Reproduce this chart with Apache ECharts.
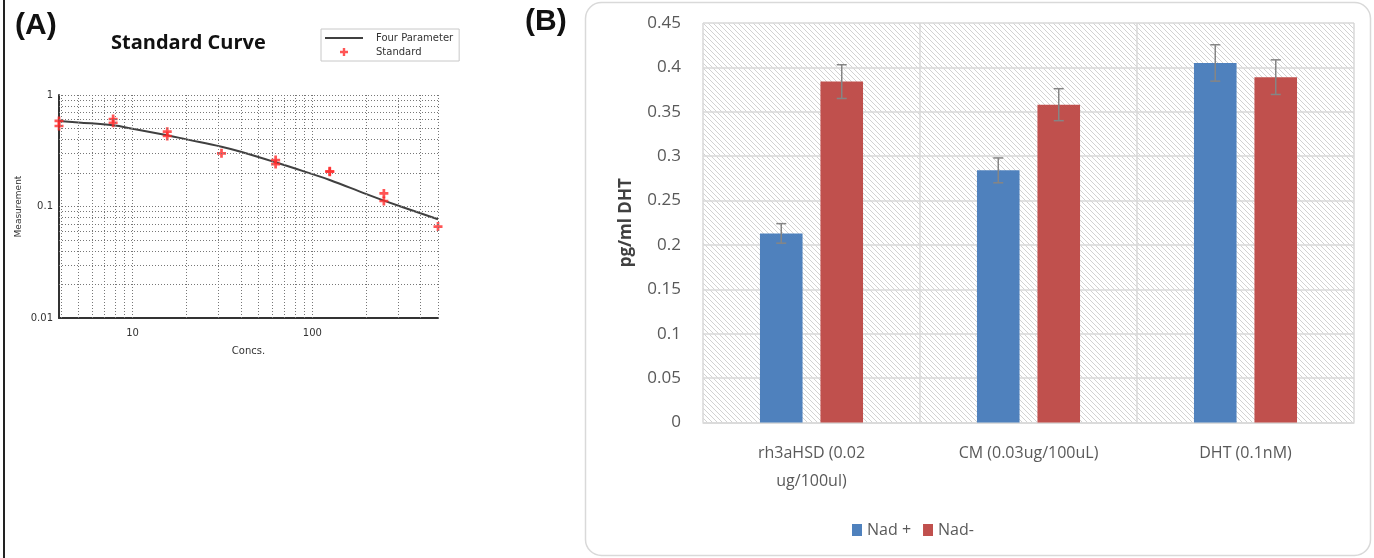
<!DOCTYPE html>
<html><head><meta charset="utf-8">
<script src="https://cdn.jsdelivr.net/npm/echarts@6/dist/echarts.min.js"></script>
<style>html,body{margin:0;padding:0;background:#fff}#c{width:1374px;height:558px}</style>
</head><body><div id="c"></div>
<script>
// ---------- Panel A: Standard curve (log-log) ----------
var curveConc = [3.9, 5, 7.8, 10, 15.6, 20, 31.25, 40, 62.5, 100, 125, 200, 250, 500];
var curveMeas = [0.585, 0.567, 0.535, 0.498, 0.435, 0.40, 0.344, 0.31, 0.249, 0.195, 0.173, 0.129, 0.113, 0.0768];
var stdConc = [3.9, 3.9, 7.8, 7.8, 15.6, 15.6, 31.25, 62.5, 62.5, 125, 125, 250, 250, 500];
var stdMeas = [0.585, 0.527, 0.609, 0.564, 0.469, 0.429, 0.30, 0.261, 0.24, 0.207, 0.205, 0.131, 0.112, 0.066];
var gridConcA = [4, 5, 6, 7, 8, 9, 10, 20, 30, 40, 50, 60, 70, 80, 90, 100, 200, 300, 400, 500];
var gridMeasA = [0.02, 0.03, 0.04, 0.05, 0.06, 0.07, 0.08, 0.09, 0.1, 0.2, 0.3, 0.4, 0.5, 0.6, 0.7, 0.8, 0.9, 1];

// ---------- Panel B: grouped bars ----------
var categories = ['rh3aHSD (0.02\nug/100ul)', 'CM (0.03ug/100uL)', 'DHT (0.1nM)'];
var nadPlus = [0.213, 0.284, 0.405];
var nadPlusErr = [0.011, 0.014, 0.0205];
var nadMinus = [0.384, 0.358, 0.389];
var nadMinusErr = [0.019, 0.018, 0.0195];

var BAR_CAT_GAP = 0.525, BAR_GAP = 0.42;

// hatch pattern for plot background
var pc = document.createElement('canvas'); pc.width = 5; pc.height = 5;
var g = pc.getContext('2d');
g.fillStyle = '#ffffff'; g.fillRect(0, 0, 5, 5);
g.strokeStyle = '#d2d2d2'; g.lineWidth = 1;
g.beginPath();
g.moveTo(-1, -1); g.lineTo(6, 6);
g.moveTo(-1, 4); g.lineTo(1, 6);
g.moveTo(4, -1); g.lineTo(6, 1);
g.stroke();

var plusPath = 'path://M3.5,0H6.5V3.5H10V6.5H6.5V10H3.5V6.5H0V3.5H3.5Z';

function zip(a, b) { return a.map(function (v, i) { return [v, b[i]]; }); }

function errRender(sign) {
  return function (params, api) {
    var i = api.value(0);
    var lo = api.coord([i, api.value(1)]);
    var hi = api.coord([i, api.value(2)]);
    var band = api.size([1, 0])[0];
    var bw = band * (1 - BAR_CAT_GAP) / (2 + BAR_GAP);
    var x = lo[0] + sign * bw * (1 + BAR_GAP) / 2;
    var cap = 5;
    var st = { stroke: '#858585', lineWidth: 1.5 };
    return { type: 'group', children: [
      { type: 'line', shape: { x1: x, y1: lo[1], x2: x, y2: hi[1] }, style: st },
      { type: 'line', shape: { x1: x - cap, y1: hi[1], x2: x + cap, y2: hi[1] }, style: st },
      { type: 'line', shape: { x1: x - cap, y1: lo[1], x2: x + cap, y2: lo[1] }, style: st }
    ] };
  };
}

var gridLineStyle = { color: '#777777', width: 1, type: [1, 2] };

var chart = echarts.init(document.getElementById('c'), null, { renderer: 'canvas' });
chart.setOption({
  backgroundColor: '#ffffff',
  animation: false,
  title: [
    { text: '(A)', left: 10, top: 6, textStyle: { fontFamily: 'Liberation Sans', fontWeight: 'bold', fontSize: 30, color: '#111' } },
    { text: 'Standard Curve', left: 106, top: 28, textStyle: { fontFamily: 'Open Sans', fontWeight: 'bold', fontSize: 20, color: '#111' } },
    { text: '(B)', left: 520, top: 2, textStyle: { fontFamily: 'Liberation Sans', fontWeight: 'bold', fontSize: 30, color: '#111' } }
  ],
  graphic: [
    { type: 'line', shape: { x1: 4, y1: 0, x2: 4, y2: 558 }, style: { stroke: '#222', lineWidth: 2 } },
    { type: 'rect', shape: { x: 585.5, y: 2.5, width: 785, height: 553, r: 16 }, style: { fill: 'none', stroke: '#d9d9d9', lineWidth: 1.5 } }
  ],
  legend: [
    {
      orient: 'vertical', left: 321, top: 29, width: 136,
      data: [{ name: 'Four Parameter', icon: 'path://M0,0H40V2H0Z' }, { name: 'Standard', icon: plusPath }],
      itemWidth: 38, itemHeight: 8, itemGap: 4, padding: [4, 6, 4, 4],
      borderColor: '#c8c8c8', borderWidth: 1,
      textStyle: { fontFamily: 'DejaVu Sans', fontSize: 10, color: '#333', padding: [0, 0, 0, 8] }
    },
    {
      orient: 'horizontal', left: 847, top: 517,
      data: ['Nad +', 'Nad-'],
      icon: 'rect', itemWidth: 10, itemHeight: 12, itemGap: 12,
      textStyle: { fontFamily: 'Open Sans', fontSize: 16, color: '#595959' }
    }
  ],
  grid: [
    { left: 59, top: 95, width: 379, height: 223, show: false },
    { left: 703, top: 23, width: 651, height: 399.5, show: true, borderWidth: 0,
      backgroundColor: { image: pc, repeat: 'repeat' } }
  ],
  xAxis: [
    {
      gridIndex: 0, type: 'log', logBase: 10, min: 3.9, max: 500,
      name: 'Concs.', nameLocation: 'middle', nameGap: 28,
      nameTextStyle: { fontFamily: 'DejaVu Sans', fontSize: 10, color: '#333' },
      axisLine: { lineStyle: { color: '#333', width: 2 } },
      axisTick: { show: false },
      splitLine: { show: false },
      axisLabel: {
        fontFamily: 'DejaVu Sans', fontSize: 10, color: '#333', margin: 10,
        formatter: function (v) {
          var l = Math.log10(v);
          return Math.abs(l - Math.round(l)) < 1e-6 ? String(Math.round(v)) : '';
        }
      }
    },
    {
      gridIndex: 1, type: 'category', data: categories, boundaryGap: true,
      axisLine: { show: true, lineStyle: { color: '#d9d9d9', width: 1.5 } },
      axisTick: { show: false },
      splitLine: { show: true, interval: 0, lineStyle: { color: '#d9d9d9', width: 1.5 } },
      axisLabel: { fontFamily: 'Open Sans', fontSize: 16, color: '#595959', margin: 17, lineHeight: 28, interval: 0 }
    }
  ],
  yAxis: [
    {
      gridIndex: 0, type: 'log', logBase: 10, min: 0.01, max: 1,
      name: 'Measurement', nameLocation: 'middle', nameGap: 36,
      nameTextStyle: { fontFamily: 'DejaVu Sans', fontSize: 9, color: '#333' },
      axisLine: { show: true, lineStyle: { color: '#333', width: 2 } },
      axisTick: { show: false },
      splitLine: { show: false },
      axisLabel: {
        fontFamily: 'DejaVu Sans', fontSize: 10, color: '#333', margin: 6,
        formatter: function (v) { return String(parseFloat(v.toPrecision(3))); }
      }
    },
    {
      gridIndex: 1, type: 'value', min: 0, max: 0.45, interval: 0.05,
      name: 'pg/ml DHT', nameLocation: 'middle', nameGap: 68,
      nameTextStyle: { fontFamily: 'Open Sans', fontWeight: 'bold', fontSize: 17, color: '#404040' },
      axisLine: { show: false }, axisTick: { show: false },
      splitLine: { show: true, lineStyle: { color: '#d9d9d9', width: 1.5 } },
      axisLabel: {
        fontFamily: 'Open Sans', fontSize: 17, color: '#595959', margin: 22,
        formatter: function (v) { return String(parseFloat(v.toFixed(2))); }
      }
    }
  ],
  series: [
    {
      name: 'Four Parameter', type: 'line', xAxisIndex: 0, yAxisIndex: 0,
      data: zip(curveConc, curveMeas), smooth: 0.4, showSymbol: false,
      itemStyle: { color: '#404040' },
      lineStyle: { color: '#404040', width: 2 }, z: 3,
      markLine: {
        silent: true, symbol: ['none', 'none'], label: { show: false },
        lineStyle: gridLineStyle, animation: false,
        data: gridConcA.map(function (v) { return { xAxis: v }; })
          .concat(gridMeasA.map(function (v) { return { yAxis: v }; }))
      }
    },
    {
      name: 'Standard', type: 'scatter', xAxisIndex: 0, yAxisIndex: 0,
      data: zip(stdConc, stdMeas), symbol: plusPath, symbolSize: 9,
      itemStyle: { color: '#ff2a2a' }, z: 4
    },
    {
      name: 'Nad +', type: 'bar', xAxisIndex: 1, yAxisIndex: 1, data: nadPlus,
      barCategoryGap: (BAR_CAT_GAP * 100) + '%', barGap: (BAR_GAP * 100) + '%',
      itemStyle: { color: '#4f81bd' }
    },
    {
      name: 'Nad-', type: 'bar', xAxisIndex: 1, yAxisIndex: 1, data: nadMinus,
      barCategoryGap: (BAR_CAT_GAP * 100) + '%', barGap: (BAR_GAP * 100) + '%',
      itemStyle: { color: '#c0504d' }
    },
    {
      name: 'Nad + error', type: 'custom', xAxisIndex: 1, yAxisIndex: 1,
      renderItem: errRender(-1), encode: { x: 0, y: [1, 2] }, z: 5,
      data: nadPlus.map(function (v, i) { return [i, v - nadPlusErr[i], v + nadPlusErr[i]]; })
    },
    {
      name: 'Nad- error', type: 'custom', xAxisIndex: 1, yAxisIndex: 1,
      renderItem: errRender(1), encode: { x: 0, y: [1, 2] }, z: 5,
      data: nadMinus.map(function (v, i) { return [i, v - nadMinusErr[i], v + nadMinusErr[i]]; })
    }
  ]
});
</script>
</body></html>
